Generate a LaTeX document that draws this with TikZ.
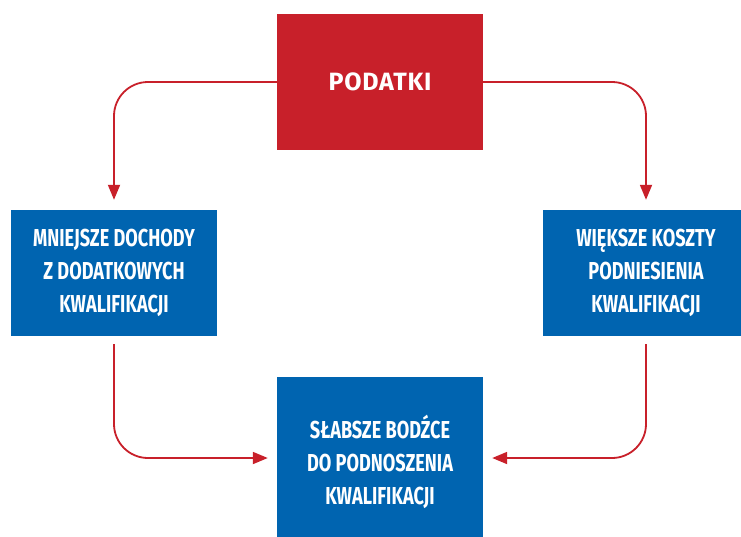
\documentclass[tikz,border=0pt]{standalone}
\usepackage{fontspec}
\setmainfont{Fira Sans}
\newfontfamily\condfont[FakeStretch=0.74]{Fira Sans}
\newfontfamily\podfont[LetterSpace=3]{Fira Sans}
\usetikzlibrary{arrows.meta}
\definecolor{podred}{HTML}{C8202A}
\definecolor{boxblue}{HTML}{0064B0}
\tikzset{
  redbox/.style={fill=podred, text=white, minimum width=206pt, minimum height=136pt, inner sep=0pt, font=\podfont\fontsize{25}{30}\selectfont\bfseries},
  bluebox/.style={fill=boxblue, text=white, minimum width=206pt, inner sep=0pt, align=center, font=\condfont\fontsize{24.5}{33}\selectfont\bfseries},
  arr/.style={draw=podred, line width=1.8pt, rounded corners=34pt, -{Triangle[length=15pt,width=12pt]}}
}
\begin{document}
\begin{tikzpicture}[x=1pt,y=-1pt]
\useasboundingbox (0,0) rectangle (741,536);
\clip (0,0) rectangle (741,536);
\node[redbox] (pod) at (380,82) {PODATKI};
\node[bluebox, minimum height=126pt] (lft) at (114,273) {MNIEJSZE DOCHODY\\Z DODATKOWYCH\\KWALIFIKACJI};
\node[bluebox, minimum height=126pt] (rgt) at (646,273) {WIĘKSZE KOSZTY\\PODNIESIENIA\\KWALIFIKACJI};
\node[bluebox, minimum height=170pt] (bot) at (380,462) {SŁABSZE BODŹCE\\DO PODNOSZENIA\\KWALIFIKACJI};
\coordinate (bl) at ([yshift=4pt]bot.west);
\coordinate (br) at ([yshift=4pt]bot.east);
\draw[arr, shorten >=10pt] (pod.west) -| (lft.north);
\draw[arr, shorten >=10pt] (pod.east) -| (rgt.north);
\draw[arr, shorten <=8pt, shorten >=9pt] (lft.south) |- (bl);
\draw[arr, shorten <=8pt, shorten >=9pt] (rgt.south) |- (br);
\end{tikzpicture}
\end{document}
